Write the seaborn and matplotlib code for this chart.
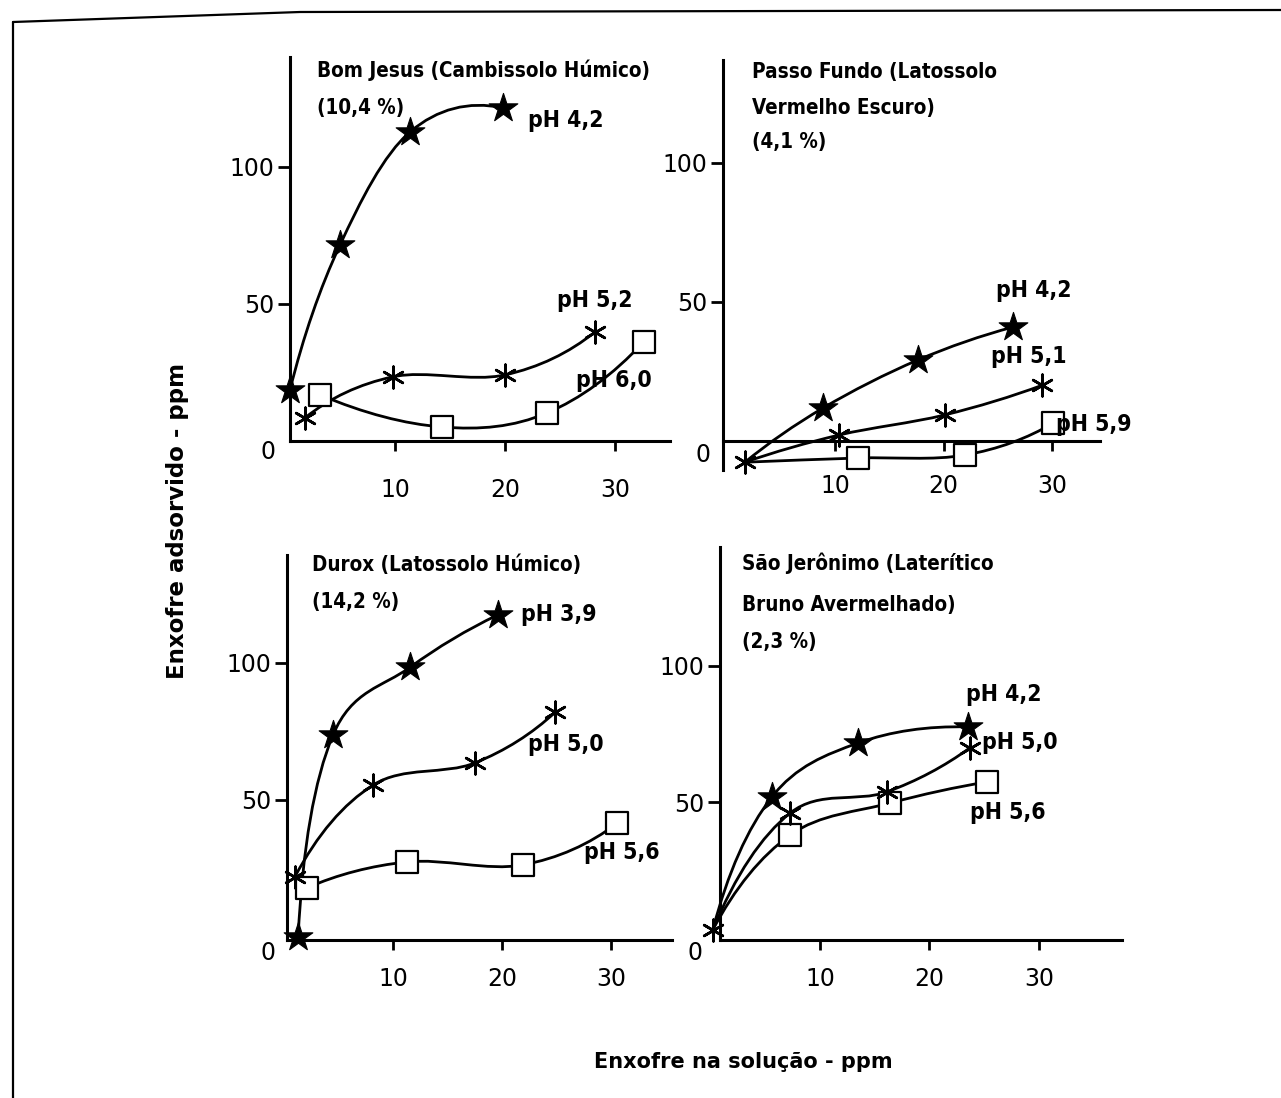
import numpy as np
import matplotlib
matplotlib.use("Agg")
import matplotlib.pyplot as plt
from matplotlib.path import Path
from matplotlib.patches import PathPatch
from matplotlib.lines import Line2D
import seaborn as sns

# ---------------- data (S in solution vs S adsorbed, ppm) ----------------
# Bom Jesus (Cambissolo Húmico)
bj_x_42 = [0.45, 5.0, 11.4, 19.8]
bj_y_42 = [18.6, 71.5, 112.8, 121.5]
bj_x_52 = [1.8, 9.8, 20.0, 28.2]
bj_y_52 = [8.4, 23.4, 24.1, 39.8]
bj_x_60 = [3.2, 14.3, 23.8, 32.6]
bj_y_60 = [16.8, 5.1, 10.2, 36.1]

# Passo Fundo (Latossolo Vermelho Escuro) - all three start at the same point
pf_x_42 = [1.7, 8.9, 17.6, 26.4]
pf_y_42 = [-7.6, 11.9, 29.1, 41.0]
pf_x_51 = [1.7, 10.4, 20.1, 29.1]
pf_y_51 = [-7.6, 2.2, 9.4, 20.1]
pf_x_59 = [1.7, 12.1, 22.0, 30.1]
pf_y_59 = [-7.6, -6.1, -5.0, 6.5]

# Durox (Latossolo Húmico)
du_x_39 = [1.3, 4.5, 11.6, 19.6]
du_y_39 = [0.0, 73.7, 98.5, 117.5]
du_x_50 = [1.0, 8.2, 17.5, 24.9]
du_y_50 = [21.9, 55.5, 63.5, 82.1]
du_x_56 = [2.1, 11.3, 21.9, 30.6]
du_y_56 = [17.9, 27.4, 26.3, 41.6]

# São Jerônimo (Laterítico Bruno Avermelhado) - common starting point
sj_x_42 = [0.2, 5.6, 13.5, 23.5]
sj_y_42 = [2.9, 51.8, 71.7, 77.6]
sj_x_50 = [0.2, 7.3, 16.1, 23.7]
sj_y_50 = [2.9, 46.0, 53.7, 69.9]
sj_x_56 = [0.2, 7.3, 16.4, 25.3]
sj_y_56 = [2.9, 37.9, 49.6, 57.4]

x_ticks = [10, 20, 30]
y_ticks = [50, 100]

titles = [
    ["Bom Jesus (Cambissolo Húmico)", "(10,4 %)"],
    ["Passo Fundo (Latossolo", "Vermelho Escuro)", "(4,1 %)"],
    ["Durox (Latossolo Húmico)", "(14,2 %)"],
    ["São Jerônimo (Laterítico", "Bruno Avermelhado)", "(2,3 %)"],
]
ph_labels = [
    ["pH 4,2", "pH 5,2", "pH 6,0"],
    ["pH 4,2", "pH 5,1", "pH 5,9"],
    ["pH 3,9", "pH 5,0", "pH 5,6"],
    ["pH 4,2", "pH 5,0", "pH 5,6"],
]
y_label = "Enxofre adsorvido - ppm"
x_label = "Enxofre na solução - ppm"

# ---------------- styling ----------------
sns.set_theme(style="white")
plt.rcParams["font.family"] = ["DejaVu Sans"]

W, H = 1281, 1098
fig = plt.figure(figsize=(W / 100, H / 100), dpi=100)
fig.patch.set_facecolor("white")


def fx(px):
    return px / W


def fy(py):
    return 1 - py / H


def smooth_path(xs, ys):
    """Cubic Bezier curve through the points (Catmull-Rom tangents)."""
    P = np.column_stack([xs, ys]).astype(float)
    n = len(P)
    T = np.zeros_like(P)
    for i in range(1, n - 1):
        T[i] = (P[i + 1] - P[i - 1]) / 2
    T[0] = 2 * (P[1] - P[0]) - T[1]
    T[-1] = 2 * (P[-1] - P[-2]) - T[-2]
    verts = [P[0]]
    codes = [Path.MOVETO]
    for i in range(n - 1):
        verts += [P[i] + T[i] / 3, P[i + 1] - T[i + 1] / 3, P[i + 1]]
        codes += [Path.CURVE4] * 3
    return Path(verts, codes)


STAR = dict(marker="*", s=470, color="black", edgecolor="black", linewidth=0.8)
AST = dict(marker=(6, 2, 0), s=240, color="black", linewidth=1.9)
SQR = dict(marker="s", s=270, facecolor="white", edgecolor="black", linewidth=1.6)


def draw_series(ax, xs, ys, style, first=0):
    ax.add_patch(PathPatch(smooth_path(xs, ys), facecolor="none",
                           edgecolor="black", lw=2.0, clip_on=False, zorder=2))
    sns.scatterplot(x=xs[first:], y=ys[first:], ax=ax, clip_on=False,
                    zorder=3, legend=False, **style)


def make_panel(box, xlim, ylim, xpad, zero_off):
    l, r, t, b = box
    ax = fig.add_axes([fx(l), fy(b), fx(r - l), (b - t) / H])
    ax.set_xlim(*xlim)
    ax.set_ylim(*ylim)
    ax.set_facecolor("none")
    for s in ("top", "right"):
        ax.spines[s].set_visible(False)
    for s in ("left", "bottom"):
        ax.spines[s].set_color("black")
        ax.spines[s].set_linewidth(2.2)
    ax.set_xticks(x_ticks)
    ax.set_yticks(y_ticks)
    ax.set_xticklabels([str(v) for v in x_ticks])
    ax.set_yticklabels([str(v) for v in y_ticks])
    ax.tick_params(axis="x", direction="out", length=7.5, width=2, pad=xpad,
                   labelsize=17, colors="black", bottom=True)
    ax.tick_params(axis="y", direction="out", length=9, width=2, pad=2,
                   labelsize=17, colors="black", left=True)
    ax.annotate("0", xy=(xlim[0], 0), xycoords="data",
                xytext=zero_off, textcoords="offset pixels",
                ha="center", va="center", fontsize=17, color="black",
                annotation_clip=False)
    ax.grid(False)
    return ax


# ---------------- panels ----------------
ax1 = make_panel((290, 670, 57, 441), (0.45, 35), (0, 140), 19, (-22, -11))
draw_series(ax1, bj_x_42, bj_y_42, STAR)
draw_series(ax1, bj_x_52, bj_y_52, AST)
draw_series(ax1, bj_x_60, bj_y_60, SQR)

ax2 = make_panel((723, 1100, 60, 470), (-0.32, 34.4), (-10.4, 137), 16, (-20, -14))
ax2.spines["bottom"].set_position(("data", 0))
draw_series(ax2, pf_x_42, pf_y_42, STAR, first=1)
draw_series(ax2, pf_x_59, pf_y_59, SQR, first=1)
draw_series(ax2, pf_x_51, pf_y_51, AST)

ax3 = make_panel((287, 672, 555, 940), (0.28, 35.6), (-1.1, 139.4), 12, (-19, -16))
draw_series(ax3, du_x_56, du_y_56, SQR)
draw_series(ax3, du_x_50, du_y_50, AST)
draw_series(ax3, du_x_39, du_y_39, STAR)

ax4 = make_panel((720, 1122, 547, 940), (0.87, 37.6), (-0.7, 143.7), 12, (-25, -15))
draw_series(ax4, sj_x_56, sj_y_56, SQR, first=1)
draw_series(ax4, sj_x_42, sj_y_42, STAR, first=1)
draw_series(ax4, sj_x_50, sj_y_50, AST)

# ---------------- texts ----------------
TFONT = dict(fontsize=14.8, fontweight="bold", fontstretch="condensed",
             color="black", ha="left", va="center")
title_pos = [
    (317, [70, 108]),
    (752, [72, 108, 142]),
    (312, [565, 602]),
    (742, [563, 605, 642]),
]
for lines, (x0, ys) in zip(titles, title_pos):
    for txt, yy in zip(lines, ys):
        fig.text(fx(x0), fy(yy), txt, **TFONT)

label_pos = [
    [(566, 120), (595, 300), (614, 380)],
    [(1034, 290), (1029, 357), (1094, 424)],
    [(559, 615), (566, 745), (622, 853)],
    [(1004, 695), (1020, 743), (1008, 812)],
]
for labs, poss in zip(ph_labels, label_pos):
    for txt, (px, py) in zip(labs, poss):
        fig.text(fx(px), fy(py), txt, fontsize=16.5, fontweight="bold",
                 fontstretch="condensed", color="black", ha="center", va="center")

fig.text(fx(178), fy(521), y_label, rotation=90, fontsize=16.5, fontweight="bold",
         ha="center", va="center", color="black")
fig.text(fx(743), fy(1062), x_label, fontsize=15, fontweight="bold",
         ha="center", va="center", color="black")

# page frame
fig.add_artist(Line2D([fx(13), fx(13)], [fy(22), fy(1098)], color="black", lw=1.6,
                      transform=fig.transFigure))
fig.add_artist(Line2D([fx(13), fx(300), fx(1281)], [fy(22), fy(12), fy(10)],
                      color="black", lw=1.6, transform=fig.transFigure))

fig.savefig("out.png", dpi=100, facecolor="white")
